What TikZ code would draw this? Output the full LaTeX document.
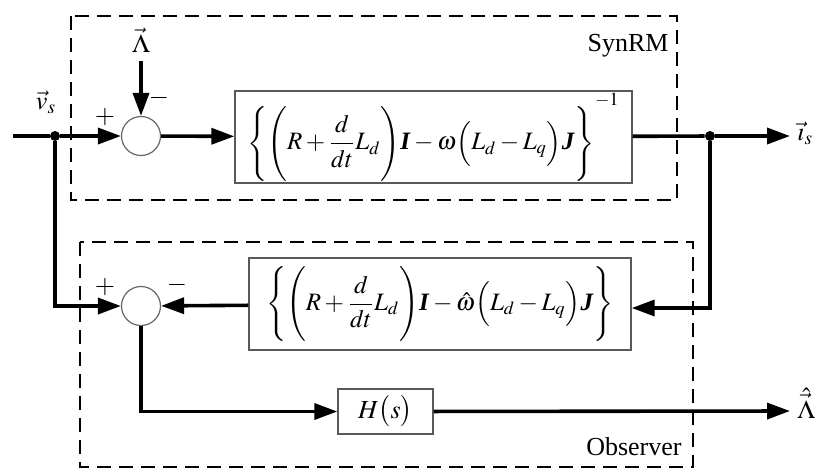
\documentclass[tikz,border=0pt]{standalone}
\usepackage{amsmath}
\usepackage{mathptmx}
\usepackage{fontspec}
\setmainfont{Liberation Serif}
\usetikzlibrary{arrows.meta,calc}
\newcommand{\bI}{\textbf{\textit{I}}}
\newcommand{\bJ}{\textbf{\textit{J}}}
\tikzset{
  sig/.style={line width=1.8pt,-{Triangle[length=11.5pt,width=8pt]}},
  wire/.style={line width=1.8pt},
  sumnode/.style={circle,draw=black!60,line width=0.6pt,minimum size=19.5pt,inner sep=0pt,fill=white},
  blockbox/.style={draw=black!65,line width=0.7pt,inner sep=0pt,fill=white},
  formula/.style={font=\fontsize{12.5}{15}\selectfont},
  dashbox/.style={line width=1.2pt,dash pattern=on 7pt off 4pt},
  dot/.style={circle,fill=black,inner sep=0pt,minimum size=5pt},
  lbl/.style={inner sep=0pt,font=\fontsize{13}{15}\selectfont},
}
\begin{document}
\begin{tikzpicture}[x=0.5pt,y=-0.5pt,font=\fontsize{13}{15}\selectfont]
\useasboundingbox (0,0) rectangle (818,468);
% dashed boxes
\draw[dashbox] (71,16) rectangle (677,200);
\draw[dashbox] (80,242) rectangle (693,467);
\node[lbl,anchor=base east] (synrm) at (669,51) {SynRM};
\node[lbl,anchor=base east] (obs) at (682,455) {Observer};
% nodes
\node[sumnode] (s1) at (141,136) {};
\node[sumnode] (s2) at (141,306) {};
\node[blockbox,formula,minimum width=198.5pt,minimum height=46pt] (b1) at (433.5,137)
  {$\Biggl\{\Biggl(R+\dfrac{d}{dt}L_d\Biggr)\bI-\omega\Bigl(L_d-L_q\Bigr)\bJ\Biggr\}^{\raisebox{4pt}{$\scriptstyle -1$}}$};
\node[blockbox,formula,minimum width=191pt,minimum height=46pt] (b2) at (440,304)
  {$\Biggl\{\Biggl(R+\dfrac{d}{dt}L_d\Biggr)\bI-\hat{\omega}\Bigl(L_d-L_q\Bigr)\bJ\Biggr\}$};
\node[blockbox,minimum width=47.5pt,minimum height=22.5pt] (hs) at (385.5,411.5) {$H\bigl(s\bigr)$};
\coordinate (in) at (13,136);
\node[dot] (j1) at (55,136) {};
\node[dot] (j2) at (710,136) {};
\coordinate (o1) at (790,136);
\coordinate (o2) at (790,411);
\coordinate (lamtop) at (141,61);
\node[lbl] (lam) at (141,40) {$\vec{\Lambda}$};
\node[lbl] (vs) at (46,102) {$\vec{v}_s$};
\node[lbl,anchor=west] (is) at (797,133) {$\vec{\imath}_s$};
\node[lbl,anchor=west] (lh) at (797,403) {$\hat{\vec{\Lambda}}$};
\node[lbl] (p1) at (105,117) {$+$};
\node[lbl] (m1) at (159,98) {$-$};
\node[lbl] (p2) at (105,287) {$+$};
\node[lbl] (m2) at (177,285) {$-$};
\coordinate (b2in) at ($(b2.east)+(0,4)$);
% connectors
\draw[wire] (in) -- (j1);
\draw[sig] (j1) -- (s1);
\draw[sig] (lamtop) -- (s1);
\draw[sig] (s1) -- (b1);
\draw[wire] (b1) -- (j2);
\draw[sig] (j2) -- (o1);
\draw[sig] (j2) |- (b2in);
\draw[sig] (j1) |- (s2);
\draw[sig] (b2) -- (s2);
\draw[sig] (s2) |- (hs);
\draw[sig] (hs) -- (o2);
\end{tikzpicture}
\end{document}
